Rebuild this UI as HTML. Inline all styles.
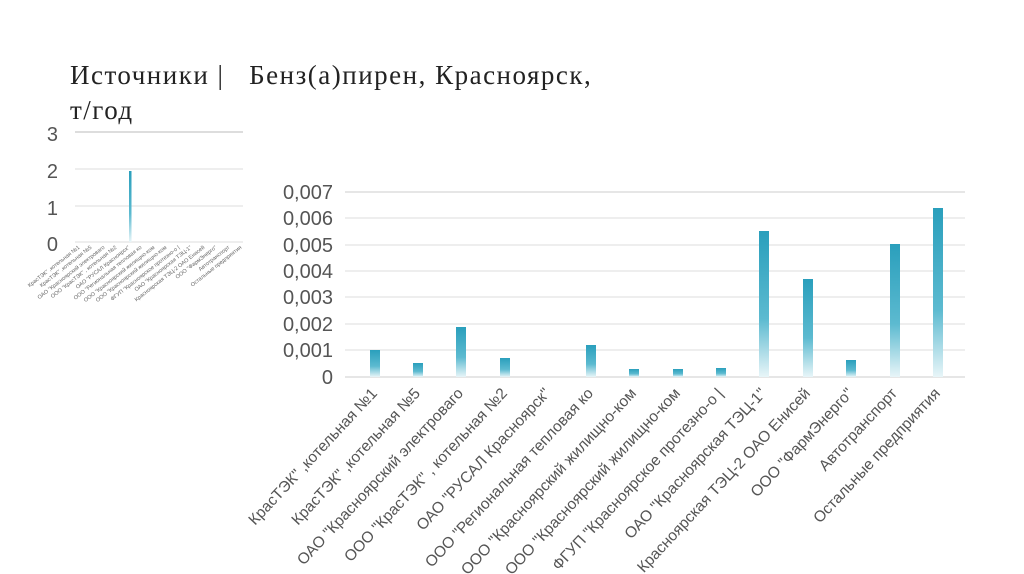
<!DOCTYPE html>
<html><head><meta charset="utf-8"><style>
body{margin:0;background:#fff;width:1024px;height:574px;overflow:hidden;position:relative;font-family:"Liberation Sans",sans-serif}
.t{position:absolute;left:70px;font-family:"Liberation Serif",serif;font-size:27px;letter-spacing:1.5px;color:#222}
</style></head><body>
<div class="t" style="top:60px">Источники |&nbsp;&nbsp; Бенз(а)пирен, Красноярск,</div>
<div class="t" style="top:95px">т/год</div>
<svg width="1024" height="574" style="position:absolute;left:0;top:0">
<defs><linearGradient id="g" x1="0" y1="0" x2="0" y2="1"><stop offset="0" stop-color="#2a9fbc"/><stop offset="0.6" stop-color="#5cbad0"/><stop offset="1" stop-color="#e8f5f8"/></linearGradient></defs>
<g stroke="#ddd" stroke-width="1">
<line x1="75" x2="243" y1="132" y2="132" stroke="#bbb"/><line x1="75" x2="243" y1="169" y2="169"/><line x1="75" x2="243" y1="206" y2="206"/><line x1="75" x2="243" y1="242" y2="242"/>
</g>
<g font-size="20" fill="#555" text-anchor="end"><text x="58" y="141">3</text><text x="58" y="178">2</text><text x="58" y="215">1</text><text x="58" y="251">0</text></g>
<rect x="129" y="171" width="2.5" height="71" fill="url(#g)"/>
<g font-size="5.5" fill="#666" text-anchor="end">
<text transform="translate(80,248) rotate(-38)">КрасТЭК" ,котельная №1</text>
<text transform="translate(92,248) rotate(-38)">КрасТЭК" ,котельная №5</text>
<text transform="translate(105,248) rotate(-38)">ОАО "Красноярский электроваго</text>
<text transform="translate(117,248) rotate(-38)">ООО "КрасТЭК" , котельная №2</text>
<text transform="translate(130,248) rotate(-38)">ОАО "РУСАЛ Красноярск"</text>
<text transform="translate(142,248) rotate(-38)">ООО "Региональная тепловая ко</text>
<text transform="translate(155,248) rotate(-38)">ООО "Красноярский жилищно-ком</text>
<text transform="translate(167,248) rotate(-38)">ООО "Красноярский жилищно-ком</text>
<text transform="translate(180,248) rotate(-38)">ФГУП "Красноярское протезно-о |</text>
<text transform="translate(192,248) rotate(-38)">ОАО "Красноярская ТЭЦ-1"</text>
<text transform="translate(205,248) rotate(-38)">Красноярская ТЭЦ-2 ОАО Енисей</text>
<text transform="translate(217,248) rotate(-38)">ООО "ФармЭнерго"</text>
<text transform="translate(230,248) rotate(-38)">Автотранспорт</text>
<text transform="translate(242,248) rotate(-38)">Остальные предприятия</text>
</g>
<g stroke="#ddd" stroke-width="1">
<line x1="345" x2="965" y1="192" y2="192" stroke="#ccc"/><line x1="345" x2="965" y1="218" y2="218"/><line x1="345" x2="965" y1="245" y2="245"/><line x1="345" x2="965" y1="271" y2="271"/><line x1="345" x2="965" y1="297" y2="297"/><line x1="345" x2="965" y1="324" y2="324"/><line x1="345" x2="965" y1="350" y2="350"/><line x1="345" x2="965" y1="377" y2="377" stroke="#ccc"/>
</g>
<g font-size="20" fill="#555" text-anchor="end">
<text x="333" y="199">0,007</text><text x="333" y="225">0,006</text><text x="333" y="252">0,005</text><text x="333" y="278">0,004</text><text x="333" y="304">0,003</text><text x="333" y="331">0,002</text><text x="333" y="357">0,001</text><text x="333" y="384">0</text>
</g>
<g fill="url(#g)">
<rect x="370" y="350" width="10" height="27"/>
<rect x="413" y="363" width="10" height="14"/>
<rect x="456" y="327" width="10" height="50"/>
<rect x="500" y="358" width="10" height="19"/>
<rect x="586" y="345" width="10" height="32"/>
<rect x="629" y="369" width="10" height="8"/>
<rect x="673" y="369" width="10" height="8"/>
<rect x="716" y="368" width="10" height="9"/>
<rect x="759" y="231" width="10" height="146"/>
<rect x="803" y="279" width="10" height="98"/>
<rect x="846" y="360" width="10" height="17"/>
<rect x="890" y="244" width="10" height="133"/>
<rect x="933" y="208" width="10" height="169"/>
</g>
<g font-size="15.5" fill="#555" text-anchor="end">
<text transform="translate(378,394) rotate(-47)">КрасТЭК" ,котельная №1</text>
<text transform="translate(421,394) rotate(-47)">КрасТЭК" ,котельная №5</text>
<text transform="translate(464,394) rotate(-47)">ОАО "Красноярский электроваго</text>
<text transform="translate(508,394) rotate(-47)">ООО "КрасТЭК" , котельная №2</text>
<text transform="translate(551,394) rotate(-47)">ОАО "РУСАЛ Красноярск"</text>
<text transform="translate(594,394) rotate(-47)">ООО "Региональная тепловая ко</text>
<text transform="translate(637,394) rotate(-47)">ООО "Красноярский жилищно-ком</text>
<text transform="translate(681,394) rotate(-47)">ООО "Красноярский жилищно-ком</text>
<text transform="translate(724,394) rotate(-47)">ФГУП "Красноярское протезно-о |</text>
<text transform="translate(767,394) rotate(-47)">ОАО "Красноярская ТЭЦ-1"</text>
<text transform="translate(811,394) rotate(-47)">Красноярская ТЭЦ-2 ОАО Енисей</text>
<text transform="translate(854,394) rotate(-47)">ООО "ФармЭнерго"</text>
<text transform="translate(898,394) rotate(-47)">Автотранспорт</text>
<text transform="translate(941,394) rotate(-47)">Остальные предприятия</text>
</g>
</svg>
</body></html>
